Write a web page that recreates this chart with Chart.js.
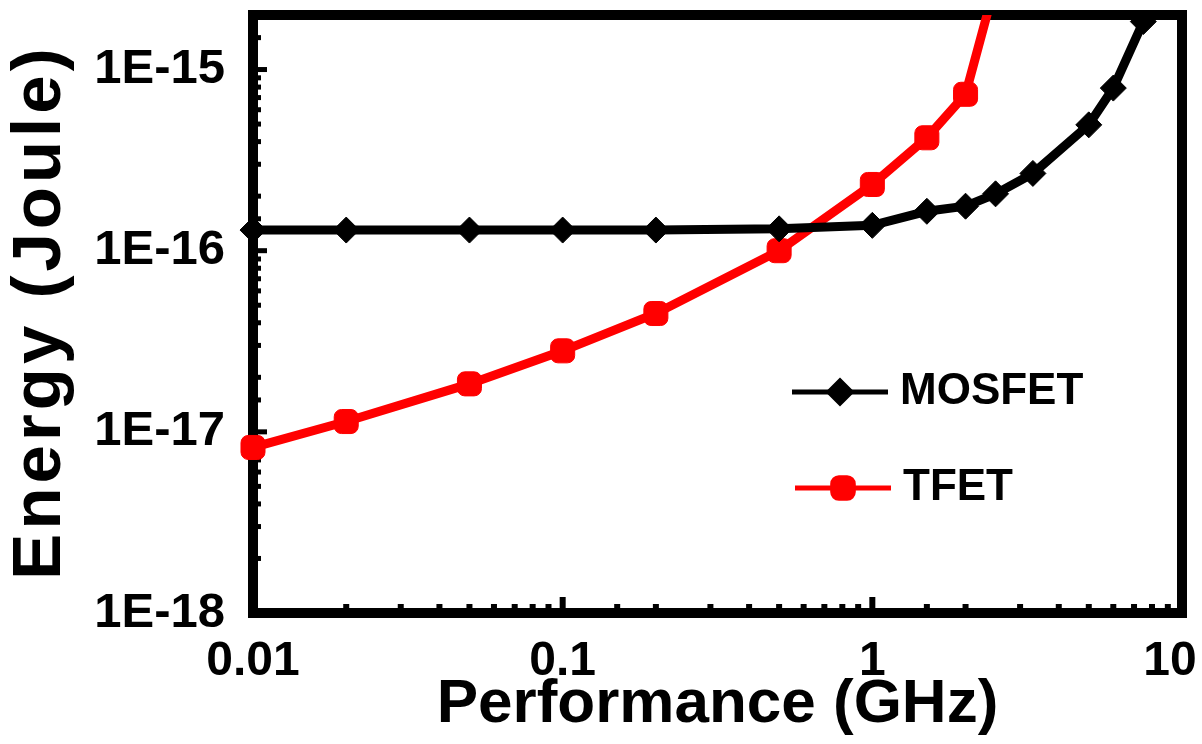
<!DOCTYPE html>
<html>
<head>
<meta charset="utf-8">
<script src="https://cdn.jsdelivr.net/npm/chart.js@4.4.0/dist/chart.umd.min.js"></script>
<style>
  html, body { margin: 0; padding: 0; background: #fff; }
  #wrap { width: 1202px; height: 744px; }
</style>
</head>
<body>
<div id="wrap"><canvas id="myChart" width="1202" height="744"></canvas></div>
<script>
// data
let mosfetFreq = [0.01, 0.02, 0.05, 0.1, 0.2, 0.5, 1, 1.5, 2, 2.5, 3.3, 5, 6, 7.5];
let mosfetEnergy = [1.3e-16, 1.3e-16, 1.3e-16, 1.3e-16, 1.3e-16, 1.32e-16, 1.38e-16, 1.65e-16, 1.76e-16, 2.06e-16, 2.67e-16, 4.95e-16, 7.9e-16, 1.84e-15];
let tfetFreq = [0.01, 0.02, 0.05, 0.1, 0.2, 0.5, 1, 1.5, 2, 2.5];
let tfetEnergy = [8.2e-18, 1.14e-17, 1.84e-17, 2.8e-17, 4.5e-17, 1.0e-16, 2.32e-16, 4.2e-16, 7.3e-16, 3.0e-15];
let xMin = 0.01, xMax = 10;
let yMin = 1e-18, yMax = 2e-15;
let xTitle = 'Performance (GHz)';
let yTitle = 'Energy (Joule)';

function pts(xs, ys) {
    return xs.map(function (x, i) { return {x: x, y: ys[i]}; });
}

function isDecade(v) {
    var l = Math.log10(v);
    return Math.abs(l - Math.round(l)) < 1e-6;
}

var FONT = '"Liberation Sans", Arial, sans-serif';

// frame + inside ticks, drawn under the lines
var framePlugin = {
    id: 'frame',
    beforeDatasetsDraw: function (chart) {
        var ctx = chart.ctx, a = chart.chartArea;
        var xs = chart.scales.x, ys = chart.scales.y;
        ctx.save();
        ctx.fillStyle = '#000';
        xs.ticks.forEach(function (t) {
            var px = xs.getPixelForValue(t.value);
            var len = isDecade(t.value) ? 16 : 9;
            ctx.fillRect(px - 3, a.bottom - len, 6, len);
        });
        ys.ticks.forEach(function (t) {
            var py = ys.getPixelForValue(t.value);
            var len = isDecade(t.value) ? 14 : 8;
            ctx.fillRect(a.left, py - 2.5, len, 5);
        });
        ctx.lineWidth = 10;
        ctx.strokeStyle = '#000';
        ctx.strokeRect(a.left, a.top, a.right - a.left, a.bottom - a.top);
        ctx.restore();
    }
};

// legend inside the plot, line with marker in the middle; y title drawn spaced out
var legendPlugin = {
    id: 'inlegend',
    afterDatasetsDraw: function (chart) {
        var ctx = chart.ctx, a = chart.chartArea;
        var rows = [{x: 792, y: 392}, {x: 795, y: 488}];
        ctx.save();
        chart.data.datasets.forEach(function (ds, i) {
            var r = rows[i];
            ctx.strokeStyle = ds.borderColor;
            ctx.lineWidth = 5;
            ctx.beginPath();
            ctx.moveTo(r.x, r.y);
            ctx.lineTo(r.x + 96, r.y);
            ctx.stroke();
            ctx.fillStyle = ds.pointBackgroundColor;
            ctx.strokeStyle = ds.pointBorderColor;
            Chart.helpers.drawPoint(ctx, {pointStyle: ds.pointStyle, radius: ds.pointRadius - 2, borderWidth: 1, rotation: 0}, r.x + 48, r.y);
            ctx.fillStyle = '#000';
            ctx.font = 'bold 44px ' + FONT;
            ctx.textBaseline = 'middle';
            ctx.fillText(ds.label, r.x + 108, r.y);
        });
        ctx.restore();

        ctx.save();
        ctx.translate(41, (a.top + a.bottom) / 2);
        ctx.rotate(-Math.PI / 2);
        ctx.font = 'bold 69px ' + FONT;
        ctx.letterSpacing = '4px';
        ctx.fillStyle = '#000';
        ctx.textAlign = 'center';
        ctx.textBaseline = 'middle';
        ctx.fillText(yTitle, 2, 0);
        ctx.restore();
    }
};

var ct = document.getElementById('myChart');
let chart = new Chart(ct, {
    type: 'line',
    data: {
        datasets: [{
            label: 'MOSFET',
            data: pts(mosfetFreq, mosfetEnergy),
            borderColor: '#000',
            borderWidth: 9,
            pointStyle: 'rectRot',
            pointRadius: 13,
            pointBackgroundColor: '#000',
            pointBorderColor: '#000',
            pointBorderWidth: 1,
            clip: {left: 20, top: 2, right: 2, bottom: 2}
        }, {
            label: 'TFET',
            data: pts(tfetFreq, tfetEnergy),
            borderColor: '#ff0000',
            borderWidth: 9,
            pointStyle: 'rectRounded',
            pointRadius: 14,
            pointBackgroundColor: '#ff0000',
            pointBorderColor: '#ff0000',
            pointBorderWidth: 1,
            clip: {left: 20, top: 0, right: 2, bottom: 2}
        }]
    },
    options: {
        responsive: false,
        animation: false,
        layout: {padding: {top: 13, right: 20, left: 0, bottom: 0}},
        plugins: {legend: {display: false}, tooltip: {enabled: false}},
        elements: {line: {tension: 0}},
        scales: {
            x: {
                type: 'logarithmic',
                min: xMin,
                max: xMax,
                grid: {display: false},
                border: {display: false},
                ticks: {
                    autoSkip: false,
                    maxRotation: 0,
                    padding: 12,
                    color: '#000',
                    font: {family: FONT, size: 48, weight: 'bold'},
                    callback: function (v) {
                        if (!isDecade(v)) return '';
                        var s = String(Number(v.toPrecision(1)));
                        // last label sits at the canvas edge, nudge it in
                        return v >= xMax ? s + '\u2002' : s;
                    }
                },
                title: {
                    display: true,
                    text: xTitle,
                    color: '#000',
                    padding: {top: 0, bottom: 2},
                    font: {family: FONT, size: 62, weight: 'bold'}
                },
                afterFit: function (s) { s.height = 131; s.paddingLeft = 0; s.paddingRight = 0; }
            },
            y: {
                type: 'logarithmic',
                min: yMin,
                max: yMax,
                grid: {display: false},
                border: {display: false},
                ticks: {
                    autoSkip: false,
                    padding: 20,
                    color: '#000',
                    font: {family: FONT, size: 49, weight: 'bold'},
                    callback: function (v) { return isDecade(v) ? '1E' + Math.round(Math.log10(v)) : ''; }
                },
                title: {display: false},
                afterFit: function (s) { s.width = 253; s.paddingTop = 0; s.paddingBottom = 0; }
            }
        }
    },
    plugins: [framePlugin, legendPlugin]
});
</script>
</body>
</html>
